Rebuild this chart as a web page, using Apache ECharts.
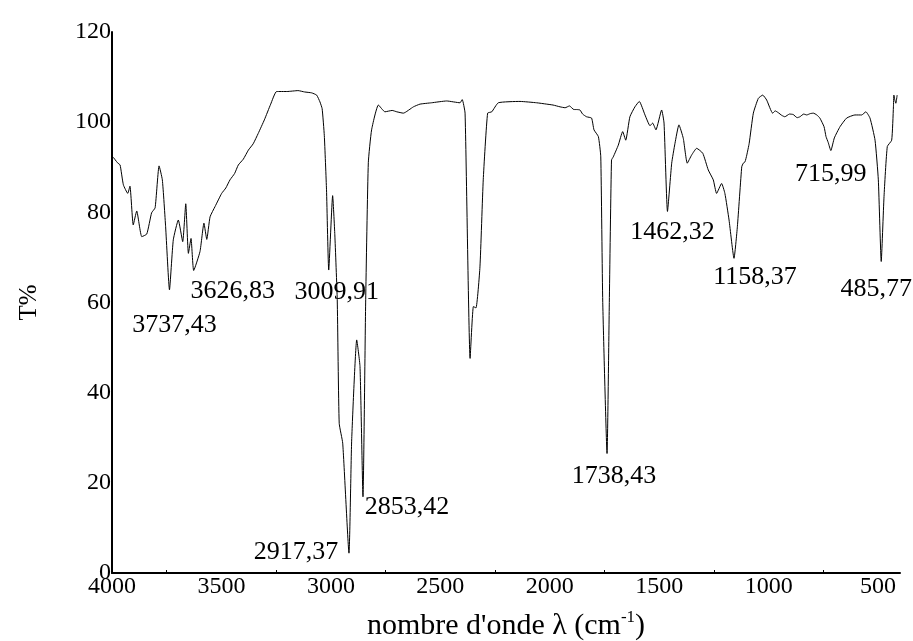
<!DOCTYPE html>
<html>
<head>
<meta charset="utf-8">
<script src="https://cdn.jsdelivr.net/npm/echarts@6/dist/echarts.min.js"></script>
<style>
  html, body { margin: 0; padding: 0; background: #fff; }
  #chart { width: 913px; height: 641px; }
</style>
</head>
<body>
<div id="chart"></div>
<script>
// spectre IR : nombre d'onde (cm-1) et transmittance (%)
const wavenumber = [
  3994, 3975, 3963, 3948, 3928, 3918, 3903, 3887, 3864, 3841, 3819, 3803, 3785, 3770, 3755,
  3737.43, 3720, 3697, 3677, 3663, 3651, 3639, 3626.83, 3598, 3580, 3567, 3552, 3529, 3499,
  3480, 3461, 3440, 3423, 3400, 3377, 3355, 3332, 3304, 3275, 3248, 3200, 3150, 3120, 3088,
  3065, 3050, 3040, 3030, 3020, 3009.91, 2992, 2982, 2971, 2962, 2946, 2917.37, 2905, 2882,
  2867, 2853.42, 2841, 2829, 2814, 2783, 2753, 2720, 2699, 2669, 2623, 2593, 2540, 2471, 2410,
  2400, 2387, 2364, 2349, 2337, 2319, 2304, 2284, 2265, 2235, 2136, 2060, 2014, 1985, 1953,
  1930, 1910, 1890, 1877, 1862, 1850, 1832, 1809, 1798, 1778, 1767, 1758, 1738.43, 1728, 1718,
  1710, 1687, 1667, 1653, 1634, 1611, 1591, 1565, 1542, 1530, 1515, 1489, 1478, 1462.32, 1443,
  1428, 1410, 1390, 1372, 1352, 1329, 1301, 1276, 1253, 1238, 1215, 1200, 1181, 1158.37, 1143,
  1123, 1116, 1108, 1100, 1089, 1070, 1047, 1027, 1009, 982, 970, 956, 940, 926, 905, 888, 870,
  857, 840, 826, 810, 796, 780, 766, 747, 738, 728, 715.99, 700, 674, 644, 606, 575, 556, 537,
  514, 499, 485.77, 473, 458, 438, 430, 428, 424, 419, 413
];
const transmittance = [
  92.2, 91.0, 90.5, 86.1, 84.2, 85.8, 77.2, 80.3, 74.6, 75.2, 79.9, 81.0, 90.3, 87.2, 76.8,
  62.8, 73.9, 78.3, 73.5, 81.9, 70.9, 74.2, 67.1, 71.3, 77.6, 74.0, 79.0, 81.3, 84.2,
  85.4, 87.2, 88.6, 90.5, 91.8, 93.8, 95.2, 97.5, 100.5, 104.0, 106.8, 106.8, 107.0, 106.7, 106.5,
  106.0, 104.5, 103.0, 97.0, 85.0, 67.2, 83.7, 75.0, 60.6, 33.2, 28.8, 4.4, 29.5, 51.7,
  45.8, 16.9, 60.6, 91.0, 98.3, 103.8, 102.3, 102.6, 102.3, 102.0, 103.4, 104.0, 104.3, 104.7, 104.3,
  105.0, 102.0, 47.6, 59.1, 58.8, 67.9, 87.2, 102.0, 102.3, 104.3, 104.6, 104.3, 104.0, 103.8, 103.4,
  103.2, 103.6, 102.8, 102.8, 102.7, 101.8, 101.2, 100.9, 98.3, 96.8, 92.3, 60.0, 26.5, 60.0, 91.6,
  92.3, 94.9, 97.9, 96.0, 101.2, 103.4, 104.6, 101.6, 99.2, 99.8, 98.3, 102.7, 99.8, 80.2, 90.9,
  95.3, 99.4, 96.4, 90.9, 92.7, 94.2, 93.1, 89.4, 87.2, 84.2, 86.4, 84.2, 78.3, 69.8, 76.8,
  90.1, 90.9, 91.2, 92.7, 95.3, 102.0, 105.3, 106.0, 104.9, 102.0, 102.5, 102.1, 101.5, 101.2, 101.8, 101.7, 101.0,
  101.2, 101.8, 101.6, 101.9, 102.0, 101.6, 100.9, 99.0, 96.8, 95.5, 93.7, 96.5, 99.0, 100.9, 101.6, 101.6, 102.3, 100.9,
  96.0, 87.2, 69.1, 83.5, 94.6, 96.0, 103.4, 106.0, 105.0, 104.2, 106.0
];

// pics annotés
const peakLabels = ['3737,43', '3626,83', '3009,91', '2917,37', '2853,42', '1738,43', '1462,32', '1158,37', '715,99', '485,77'];
const peakWn = [3737.43, 3626.83, 3009.91, 2917.37, 2853.42, 1738.43, 1462.32, 1158.37, 715.99, 485.77];
const peakT = [62.8, 67.1, 67.2, 4.4, 16.9, 26.5, 80.2, 69.8, 93.7, 69.1];
// decalage des etiquettes (px)
const labelOffsets = [[5, 35], [39, 21], [8, 22], [-53, -1], [44, 10], [7, 23], [5, 21], [21, 19], [0, 24], [-5, 28]];

const xLabelValues = [4000, 3500, 3000, 2500, 2000, 1500, 1000, 500];
const xMinorTicks = [3750, 3250, 2750, 2250, 1750, 1250, 750];

const serif = "'Liberation Serif', 'Times New Roman', serif";

let seriesData = [];
for (let i = 0; i < wavenumber.length; i++) {
  seriesData.push([wavenumber[i], transmittance[i]]);
}
let marks = [];
for (let i = 0; i < peakWn.length; i++) {
  marks.push({
    name: peakLabels[i],
    coord: [peakWn[i], peakT[i]],
    label: { offset: labelOffsets[i] }
  });
}

const myChart = echarts.init(document.getElementById('chart'));
const option = {
  backgroundColor: '#fff',
  animation: false,
  grid: {
    left: 112,
    right: 13,
    top: 32,
    bottom: 68,
    outerBoundsMode: 'none'
  },
  xAxis: {
    type: 'value',
    inverse: true,
    min: 400,
    max: 4000,
    name: "{n|nombre d'onde λ (cm}{s|-1}{n|)}",
    nameLocation: 'middle',
    nameGap: 36,
    nameTextStyle: {
      rich: {
        n: { fontFamily: serif, fontSize: 30, color: '#000', lineHeight: 34 },
        s: { fontFamily: serif, fontSize: 17, color: '#000', verticalAlign: 'top', lineHeight: 34 }
      }
    },
    axisLine: { show: true, lineStyle: { color: '#000', width: 2 } },
    axisTick: {
      show: true,
      inside: true,
      length: 3,
      customValues: xMinorTicks,
      lineStyle: { color: '#000', width: 1 }
    },
    axisLabel: {
      customValues: xLabelValues,
      formatter: function (value) {
        return String(value);
      },
      margin: 2,
      color: '#000',
      fontFamily: serif,
      fontSize: 24
    },
    splitLine: { show: false }
  },
  yAxis: {
    type: 'value',
    min: 0,
    max: 120,
    interval: 20,
    name: 'T%',
    nameLocation: 'middle',
    nameRotate: 90,
    nameGap: 70,
    nameTextStyle: { fontFamily: serif, fontSize: 25, color: '#000' },
    axisLine: { show: true, lineStyle: { color: '#000', width: 2 } },
    axisTick: { show: false },
    axisLabel: {
      margin: 1,
      color: '#000',
      fontFamily: serif,
      fontSize: 24
    },
    splitLine: { show: false }
  },
  series: [
    {
      name: 'T%',
      type: 'line',
      data: seriesData,
      symbol: 'none',
      smooth: 0.15,
      lineStyle: { color: '#000', width: 1 },
      markPoint: {
        symbol: 'circle',
        symbolSize: 0,
        label: {
          show: true,
          position: 'inside',
          formatter: '{b}',
          color: '#000',
          fontFamily: serif,
          fontSize: 26
        },
        data: marks
      }
    }
  ]
};
myChart.setOption(option);
</script>
</body>
</html>
